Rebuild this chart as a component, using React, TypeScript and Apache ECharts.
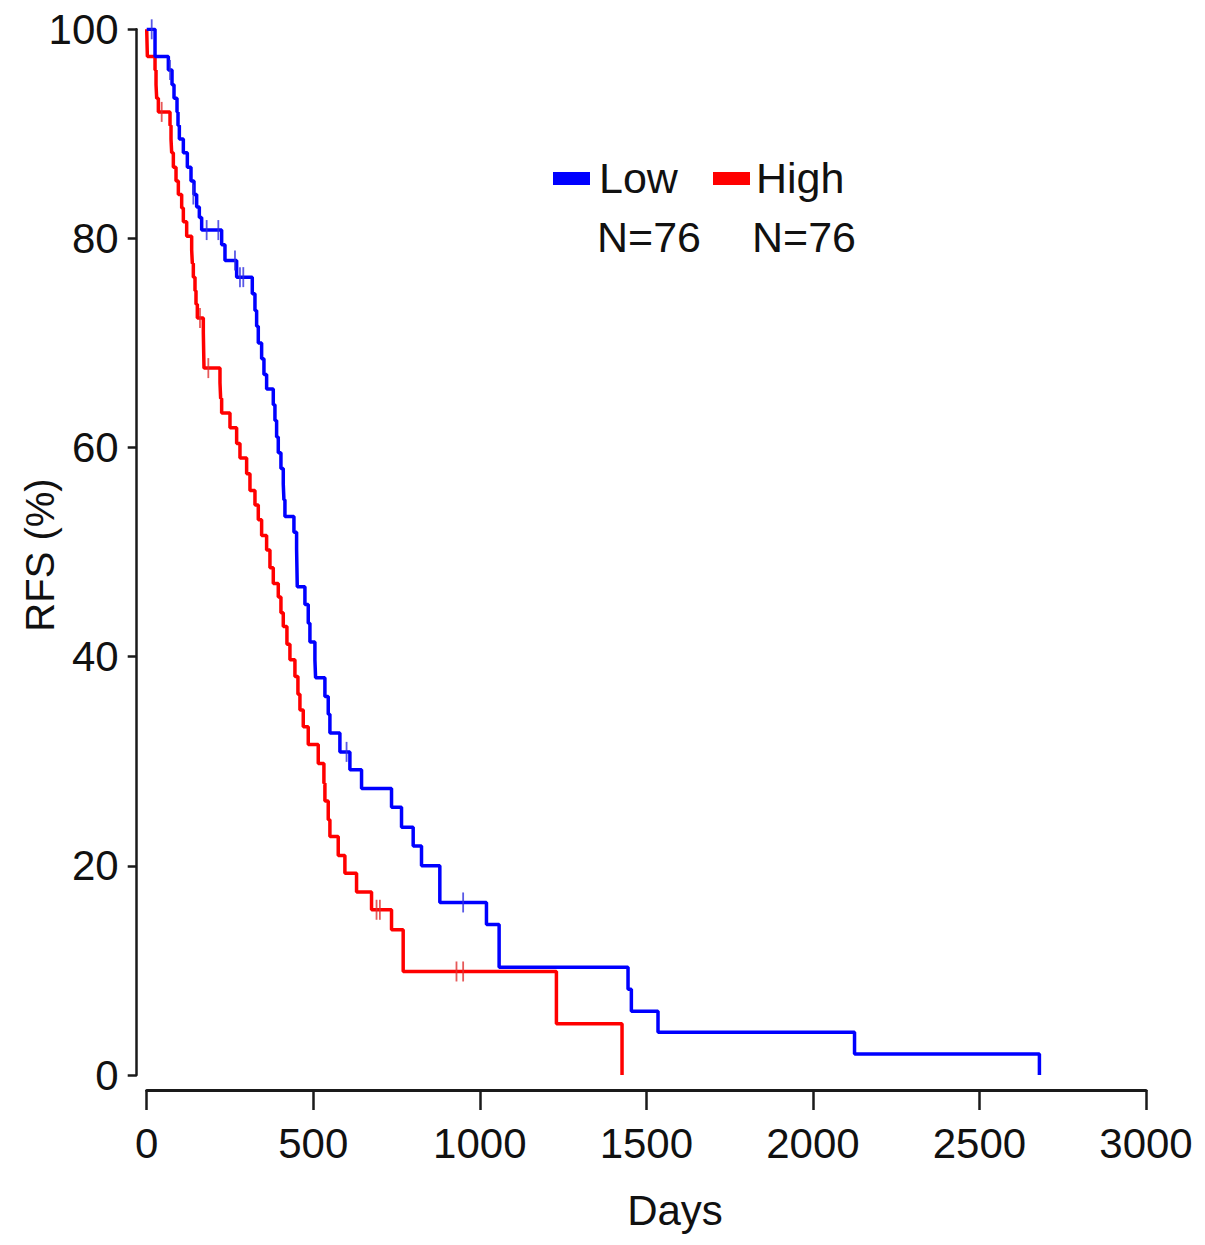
import React, { useEffect, useRef } from "react";
import * as echarts from "echarts";

// Kaplan-Meier step data (days, RFS %)
const lowDays = [0, 25, 65, 76, 82, 91, 94, 98, 110, 122, 133, 142, 150, 158, 165, 225, 235, 270, 317, 325, 330, 335, 345, 352, 360, 380, 385, 390, 395, 403, 410, 412, 415, 442, 450, 451, 452, 475, 485, 490, 505, 507, 535, 545, 550, 580, 610, 645, 735, 765, 800, 825, 880, 1020, 1058, 1445, 1455, 1535, 2125, 2680];
const lowRFS = [100, 97.4, 96.1, 94.7, 93.4, 92.1, 90.8, 89.5, 88.2, 86.8, 85.5, 84.2, 83.0, 82.0, 80.8, 79.4, 77.9, 76.3, 74.7, 73.1, 71.6, 70.0, 68.5, 67.0, 65.6, 64.1, 62.6, 61.0, 59.5, 58.0, 56.5, 55.0, 53.4, 51.9, 50.3, 48.5, 46.7, 45.0, 43.2, 41.4, 39.7, 38.0, 36.2, 34.5, 32.7, 30.9, 29.2, 27.4, 25.6, 23.7, 21.9, 20.0, 16.5, 14.4, 10.3, 8.2, 6.1, 4.1, 2.0, 0];

const highDays = [0, 2, 25, 28, 30, 35, 70, 73, 75, 80, 88, 95, 105, 110, 120, 135, 137, 140, 145, 148, 152, 170, 171, 172, 220, 222, 225, 250, 270, 280, 300, 310, 325, 335, 345, 360, 370, 380, 395, 403, 410, 421, 430, 445, 454, 460, 470, 485, 515, 532, 535, 545, 550, 575, 595, 630, 675, 735, 770, 1230, 1427];
const highRFS = [100, 97.4, 96.1, 94.7, 93.4, 92.1, 90.8, 89.5, 88.2, 86.8, 85.5, 84.2, 82.9, 81.6, 80.2, 78.9, 77.6, 76.3, 75.0, 73.7, 72.4, 71.0, 69.3, 67.6, 66.2, 64.7, 63.3, 61.9, 60.4, 59.0, 57.5, 55.9, 54.5, 53.1, 51.6, 50.2, 48.5, 47.0, 45.7, 44.2, 42.9, 41.2, 39.7, 38.1, 36.4, 34.9, 33.3, 31.6, 29.8, 27.9, 26.2, 24.4, 22.8, 21.0, 19.3, 17.5, 15.8, 13.9, 9.9, 4.9, 0];

// censored observations
const lowCensorDays = [15, 70, 140, 180, 215, 265, 280, 290, 600, 950];
const lowCensorRFS = [100, 96.1, 84.2, 80.8, 80.8, 77.9, 76.3, 76.3, 30.9, 16.5];
const highCensorDays = [45, 160, 185, 690, 700, 930, 950];
const highCensorRFS = [92.1, 72.4, 67.6, 15.8, 15.8, 9.9, 9.9];

const xTicks = [0, 500, 1000, 1500, 2000, 2500, 3000];
const yTicks = [0, 20, 40, 60, 80, 100];

const groupNames = ["Low", "High"];
const groupN = [76, 76];
const groupColors = ["#0000ff", "#ff0000"];

const FONT = "'Liberation Sans', Arial, Helvetica, sans-serif";
const AXIS_COLOR = "#1a1a1a";

const zip = (a: number[], b: number[]) => a.map((v, i) => [v, b[i]]);

export default function App() {
  const ref = useRef<HTMLDivElement>(null);

  useEffect(() => {
    if (!ref.current) return;
    const chart = echarts.init(ref.current, null, { renderer: "svg" });
    const option: any = {
      animation: false,
      backgroundColor: "#ffffff",
      textStyle: { fontFamily: FONT },
      grid: { left: 146.7, right: 59, top: 29.3, bottom: 170, containLabel: false },
      xAxis: {
        type: "value",
        min: xTicks[0],
        max: xTicks[xTicks.length - 1],
        interval: 500,
        offset: 15,
        axisLine: { show: true, onZero: false, lineStyle: { color: AXIS_COLOR, width: 3 } },
        axisTick: { show: true, length: 20, lineStyle: { color: AXIS_COLOR, width: 2.5 } },
        axisLabel: { fontSize: 42, color: "#111", margin: 32, fontFamily: FONT, formatter: (v: number) => String(v) },
        splitLine: { show: false },
      },
      yAxis: {
        type: "value",
        min: yTicks[0],
        max: yTicks[yTicks.length - 1],
        interval: 20,
        offset: 10,
        axisLine: { show: true, onZero: false, lineStyle: { color: AXIS_COLOR, width: 2.5 } },
        axisTick: { show: true, length: 9, lineStyle: { color: AXIS_COLOR, width: 2.5 } },
        axisLabel: { fontSize: 42, color: "#111", margin: 18, fontFamily: FONT, formatter: (v: number) => String(v) },
        splitLine: { show: false },
      },
      graphic: [
        {
          type: "text",
          x: 40,
          y: 555,
          rotation: Math.PI / 2,
          style: { text: "RFS (%)", fontSize: 40, fill: "#111", fontFamily: FONT, textAlign: "center", textVerticalAlign: "middle" },
        },
        {
          type: "text",
          x: 675,
          y: 1210,
          style: { text: "Days", fontSize: 42, fill: "#111", fontFamily: FONT, textAlign: "center", textVerticalAlign: "middle" },
        },
        { type: "rect", shape: { x: 553, y: 172, width: 37, height: 13 }, style: { fill: groupColors[0] } },
        { type: "text", x: 599, y: 178, style: { text: groupNames[0], fontSize: 43, fill: "#111", fontFamily: FONT, textAlign: "left", textVerticalAlign: "middle" } },
        { type: "rect", shape: { x: 713, y: 172, width: 37, height: 13 }, style: { fill: groupColors[1] } },
        { type: "text", x: 756, y: 178, style: { text: groupNames[1], fontSize: 43, fill: "#111", fontFamily: FONT, textAlign: "left", textVerticalAlign: "middle" } },
        { type: "text", x: 597, y: 237, style: { text: "N=" + groupN[0], fontSize: 43, fill: "#111", fontFamily: FONT, textAlign: "left", textVerticalAlign: "middle" } },
        { type: "text", x: 752, y: 237, style: { text: "N=" + groupN[1], fontSize: 43, fill: "#111", fontFamily: FONT, textAlign: "left", textVerticalAlign: "middle" } },
      ],
      series: [
        {
          name: groupNames[1],
          type: "line",
          step: "end",
          showSymbol: false,
          data: zip(highDays, highRFS),
          lineStyle: { color: groupColors[1], width: 3.5 },
          z: 2,
        },
        {
          name: groupNames[0],
          type: "line",
          step: "end",
          showSymbol: false,
          data: zip(lowDays, lowRFS),
          lineStyle: { color: groupColors[0], width: 3.5 },
          z: 3,
        },
        {
          type: "scatter",
          data: zip(highCensorDays, highCensorRFS),
          symbol: "rect",
          symbolSize: [1.8, 20],
          itemStyle: { color: "#e03030" },
          z: 4,
        },
        {
          type: "scatter",
          data: zip(lowCensorDays, lowCensorRFS),
          symbol: "rect",
          symbolSize: [1.8, 20],
          itemStyle: { color: "#3030e0" },
          z: 4,
        },
      ],
    };
    chart.setOption(option);
    return () => chart.dispose();
  }, []);

  return <div ref={ref} style={{ position: "absolute", left: 0, top: 0, width: 1205, height: 1245 }} />;
}
